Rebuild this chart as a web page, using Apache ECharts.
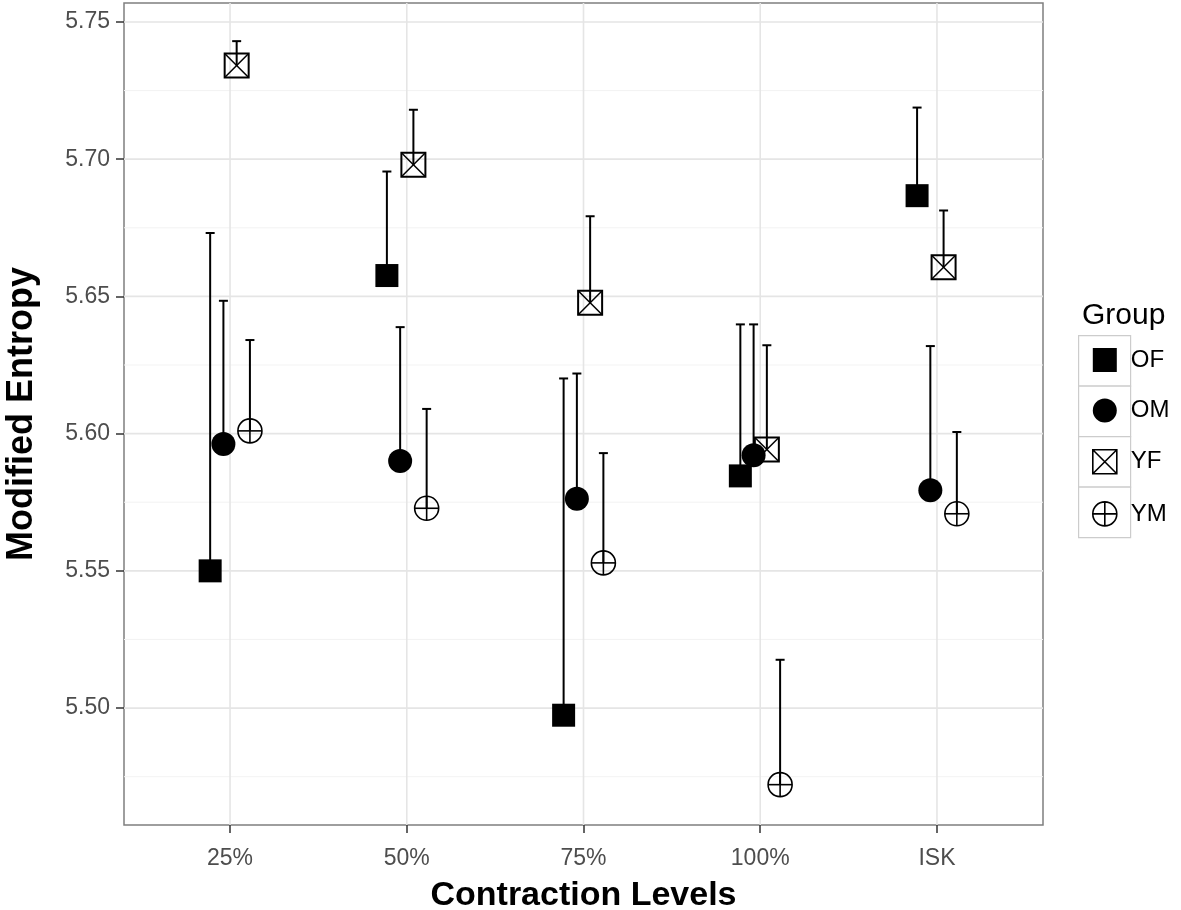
<!DOCTYPE html>
<html>
<head>
<meta charset="utf-8">
<script src="https://cdn.jsdelivr.net/npm/echarts@6/dist/echarts.min.js"></script>
<style>
html,body{margin:0;padding:0;background:#fff;}
#chart{width:1181px;height:910px;}
</style>
</head>
<body>
<div id="chart"></div>
<script>
// ---- data ----
var categories = ['25%', '50%', '75%', '100%', 'ISK'];
var groups = ['OF', 'OM', 'YF', 'YM'];
var ofMean  = [5.5500, 5.6576, 5.4974, 5.5846, 5.6867];
var ofUpper = [5.6731, 5.6955, 5.6201, 5.6398, 5.7188];
var omMean  = [5.5962, 5.5900, 5.5763, 5.5921, 5.5794];
var omUpper = [5.6484, 5.6388, 5.6219, 5.6398, 5.6319];
var yfMean  = [5.7341, 5.6980, 5.6477, 5.5942, 5.6606];
var yfUpper = [5.7430, 5.7180, 5.6792, 5.6322, 5.6813];
var ymMean  = [5.6010, 5.5728, 5.5529, 5.4721, 5.5708];
var ymUpper = [5.6341, 5.6090, 5.5929, 5.5176, 5.6006];
var yTicks = [5.50, 5.55, 5.60, 5.65, 5.70, 5.75];
var yMinorTicks = [5.475, 5.525, 5.575, 5.625, 5.675, 5.725];
var xTicks = [1, 2, 3, 4, 5];

var means = [ofMean, omMean, yfMean, ymMean];
var uppers = [ofUpper, omUpper, yfUpper, ymUpper];
var dodge = [-0.1125, -0.0375, 0.0375, 0.1125];
var X_MIN = 0.4, X_MAX = 5.6, Y_MIN = 5.4574, Y_MAX = 5.7569;
var FONT = "'Liberation Sans', Arial, sans-serif";

var chart = echarts.init(document.getElementById('chart'), null, {renderer: 'canvas'});

// gridline data
var gridData = [];
yMinorTicks.forEach(function (v) { gridData.push([0, v]); });
yTicks.forEach(function (v) { gridData.push([1, v]); });
xTicks.forEach(function (v) { gridData.push([2, v]); });

// error bar data
var errData = [];
groups.forEach(function (g, gi) {
  categories.forEach(function (c, ci) {
    errData.push([ci + 1 + dodge[gi], means[gi][ci], uppers[gi][ci]]);
  });
});

function pointData(gi) {
  return categories.map(function (c, ci) { return [ci + 1 + dodge[gi], means[gi][ci]]; });
}

function drawSymbol(gi, p) {
  var x = p[0], y = p[1];
  if (gi === 0) {
    return {type: 'rect', shape: {x: x - 11.5, y: y - 11.5, width: 23, height: 23}, style: {fill: '#000'}};
  } else if (gi === 1) {
    return {type: 'circle', shape: {cx: x, cy: y, r: 12}, style: {fill: '#000'}};
  } else if (gi === 2) {
    var h = 12;
    return {type: 'group', children: [
      {type: 'rect', shape: {x: x - h, y: y - h, width: 2 * h, height: 2 * h}, style: {fill: null, stroke: '#000', lineWidth: 2}},
      {type: 'line', shape: {x1: x - h, y1: y - h, x2: x + h, y2: y + h}, style: {stroke: '#000', lineWidth: 1.5}},
      {type: 'line', shape: {x1: x + h, y1: y - h, x2: x - h, y2: y + h}, style: {stroke: '#000', lineWidth: 1.5}}
    ]};
  } else {
    var r = 12;
    return {type: 'group', children: [
      {type: 'circle', shape: {cx: x, cy: y, r: r}, style: {fill: null, stroke: '#000', lineWidth: 1.6}},
      {type: 'line', shape: {x1: x - r, y1: y, x2: x + r, y2: y}, style: {stroke: '#000', lineWidth: 1.6}},
      {type: 'line', shape: {x1: x, y1: y - r, x2: x, y2: y + r}, style: {stroke: '#000', lineWidth: 1.6}}
    ]};
  }
}

var series = [
  {
    type: 'custom', name: 'grid', silent: true, z: 0, data: gridData,
    renderItem: function (params, api) {
      var kind = api.value(0), v = api.value(1);
      var a, b;
      if (kind === 2) { a = api.coord([v, Y_MIN]); b = api.coord([v, Y_MAX]); }
      else { a = api.coord([X_MIN, v]); b = api.coord([X_MAX, v]); }
      return {type: 'line', shape: {x1: a[0], y1: a[1], x2: b[0], y2: b[1]},
        style: {stroke: kind === 0 ? '#f3f3f3' : '#e5e5e5', lineWidth: kind === 0 ? 1 : 1.6}};
    }
  },
  {
    type: 'custom', name: 'errorbars', silent: true, z: 2, data: errData,
    renderItem: function (params, api) {
      var p = api.coord([api.value(0), api.value(1)]);
      var u = api.coord([api.value(0), api.value(2)]);
      return {type: 'group', children: [
        {type: 'line', shape: {x1: p[0], y1: p[1], x2: u[0], y2: u[1]}, style: {stroke: '#000', lineWidth: 2}},
        {type: 'line', shape: {x1: u[0] - 4.5, y1: u[1], x2: u[0] + 4.5, y2: u[1]}, style: {stroke: '#000', lineWidth: 2}}
      ]};
    }
  }
];
groups.forEach(function (g, gi) {
  series.push({
    type: 'custom', name: g, z: 3, data: pointData(gi),
    itemStyle: {color: '#000'},
    renderItem: function (params, api) {
      var p = api.coord([api.value(0), api.value(1)]);
      return drawSymbol(gi, p);
    }
  });
});

var keyBoxes = groups.map(function (g, i) {
  return {type: 'rect', left: 1078, top: 335 + i * 50.5, z: 0,
    shape: {width: 52, height: 50.5}, style: {fill: '#fff', stroke: '#cccccc', lineWidth: 1.2}};
});

var option = {
  animation: false,
  backgroundColor: '#fff',
  textStyle: {fontFamily: FONT},
  title: {
    text: 'Group', left: 1077, top: 296,
    textStyle: {fontFamily: FONT, fontSize: 30, fontWeight: 'normal', color: '#000'}
  },
  legend: {
    orient: 'vertical', left: 1092, top: 348, padding: 0,
    itemWidth: 24, itemHeight: 24, itemGap: 26.5,
    selectedMode: false,
    textStyle: {fontFamily: FONT, fontSize: 24, color: '#000', padding: [0, 0, 0, 9]},
    data: [
      {name: 'OF', icon: 'rect', itemStyle: {color: '#000'}},
      {name: 'OM', icon: 'circle', itemStyle: {color: '#000'}},
      {name: 'YF', icon: 'path://M0,0L22,0L22,22L0,22Z M0,0L22,22 M22,0L0,22',
        itemStyle: {color: 'rgba(0,0,0,0)', borderColor: '#000', borderWidth: 1.6}},
      {name: 'YM', icon: 'path://M12,0A12,12 0 1,1 11.99,0Z M12,0L12,24 M0,12L24,12',
        itemStyle: {color: 'rgba(0,0,0,0)', borderColor: '#000', borderWidth: 1.6}}
    ]
  },
  graphic: keyBoxes,
  grid: {
    left: 124, right: 138, top: 3, bottom: 85,
    containLabel: false, outerBoundsMode: 'none',
    show: true, borderColor: '#7f7f7f', borderWidth: 1.5, backgroundColor: '#fff'
  },
  xAxis: {
    type: 'value', min: X_MIN, max: X_MAX,
    name: 'Contraction Levels', nameLocation: 'middle', nameGap: 54,
    nameTextStyle: {fontFamily: FONT, fontSize: 34, fontWeight: 'bold', color: '#000'},
    axisLine: {show: false},
    splitLine: {show: false},
    axisTick: {show: true, customValues: xTicks, length: 8, lineStyle: {color: '#333', width: 1.5}},
    axisLabel: {
      customValues: xTicks, margin: 22, fontFamily: FONT, fontSize: 23, color: '#4d4d4d',
      formatter: function (v) { return categories[Math.round(v) - 1] || ''; }
    }
  },
  yAxis: {
    type: 'value', min: Y_MIN, max: Y_MAX,
    name: 'Modified Entropy', nameLocation: 'middle', nameGap: 84,
    nameTextStyle: {fontFamily: FONT, fontSize: 36, fontWeight: 'bold', color: '#000'},
    axisLine: {show: false},
    splitLine: {show: false},
    axisTick: {show: true, customValues: yTicks, length: 8, lineStyle: {color: '#333', width: 1.5}},
    axisLabel: {
      customValues: yTicks, margin: 14, fontFamily: FONT, fontSize: 23, color: '#4d4d4d',
      formatter: function (v) { return v.toFixed(2); }
    }
  },
  series: series
};
chart.setOption(option);
</script>
</body>
</html>
